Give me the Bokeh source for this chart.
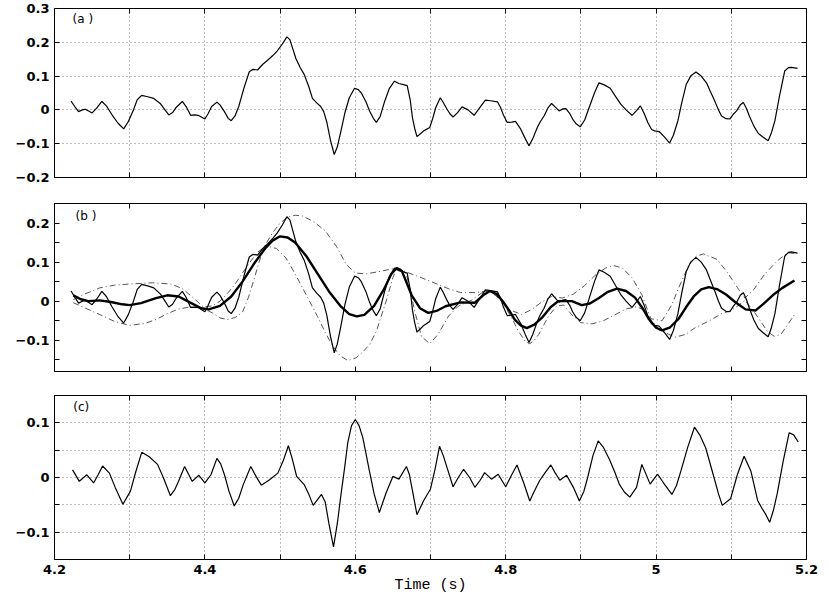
from bokeh.plotting import figure
from bokeh.models import FixedTicker, LinearAxis, Range1d, Label
from bokeh.layouts import column
from bokeh.embed import file_html
from bokeh.resources import INLINE

# ---------------- data ----------------
# (a) measured signal (also thin line in (b))
t_a = [4.222, 4.227, 4.232, 4.237, 4.241, 4.246, 4.250, 4.256, 4.263, 4.269, 4.276, 4.284, 4.292, 4.298,
       4.305, 4.310, 4.316, 4.324, 4.332, 4.341, 4.347, 4.352, 4.357, 4.362, 4.370, 4.375, 4.381, 4.386,
       4.391, 4.400, 4.404, 4.409, 4.416, 4.420, 4.426, 4.431, 4.435, 4.440, 4.445, 4.452, 4.459, 4.464,
       4.470, 4.477, 4.483, 4.490, 4.496, 4.503, 4.509, 4.513, 4.517, 4.521, 4.527, 4.532, 4.538, 4.543,
       4.549, 4.554, 4.558, 4.562, 4.567, 4.572, 4.576, 4.581, 4.586, 4.592, 4.599, 4.604, 4.608, 4.614,
       4.619, 4.624, 4.628, 4.633, 4.639, 4.645, 4.652, 4.658, 4.664, 4.669, 4.673, 4.676, 4.679, 4.682,
       4.687, 4.691, 4.699, 4.703, 4.707, 4.713, 4.717, 4.722, 4.726, 4.730, 4.736, 4.742, 4.750, 4.758,
       4.765, 4.773, 4.780, 4.789, 4.793, 4.797, 4.802, 4.808, 4.813, 4.820, 4.826, 4.831, 4.836, 4.842,
       4.846, 4.851, 4.856, 4.861, 4.866, 4.871, 4.876, 4.880, 4.885, 4.889, 4.894, 4.899, 4.905, 4.911,
       4.918, 4.924, 4.931, 4.939, 4.946, 4.953, 4.960, 4.968, 4.974, 4.979, 4.984, 4.989, 4.994, 4.998,
       5.004, 5.011, 5.018, 5.023, 5.029, 5.034, 5.040, 5.046, 5.053, 5.060, 5.067, 5.072, 5.078, 5.083,
       5.087, 5.093, 5.098, 5.103, 5.107, 5.112, 5.116, 5.120, 5.124, 5.130, 5.136, 5.142, 5.149, 5.153,
       5.158, 5.164, 5.171, 5.176, 5.180, 5.188]
v_a = [0.026, 0.010, -0.005, 0.000, 0.002, -0.004, -0.009, 0.005, 0.025, 0.012, -0.013, -0.038, -0.056, -0.035,
       0.000, 0.030, 0.043, 0.039, 0.034, 0.018, 0.000, -0.015, -0.008, 0.008, 0.025, 0.010, -0.016, -0.015,
       -0.016, -0.027, -0.012, 0.010, 0.023, 0.015, -0.005, -0.025, -0.032, -0.018, 0.010, 0.065, 0.113, 0.120,
       0.118, 0.135, 0.146, 0.160, 0.174, 0.195, 0.216, 0.208, 0.180, 0.152, 0.124, 0.105, 0.070, 0.034,
       0.020, 0.010, -0.005, -0.035, -0.090, -0.132, -0.110, -0.062, -0.010, 0.036, 0.064, 0.060, 0.050, 0.025,
       -0.003, -0.025, -0.037, -0.020, 0.025, 0.062, 0.085, 0.078, 0.075, 0.072, 0.030, -0.023, -0.055, -0.079,
       -0.070, -0.062, -0.052, -0.025, 0.007, 0.036, 0.022, 0.002, -0.012, -0.021, -0.008, 0.009, 0.000, -0.016,
       0.005, 0.029, 0.027, 0.024, 0.008, -0.015, -0.037, -0.036, -0.034, -0.057, -0.085, -0.106, -0.085, -0.052,
       -0.035, -0.018, 0.005, 0.019, 0.008, -0.003, 0.003, 0.004, -0.010, -0.027, -0.042, -0.050, -0.030, 0.007,
       0.050, 0.080, 0.074, 0.064, 0.040, 0.017, 0.000, -0.016, -0.002, 0.012, -0.010, -0.037, -0.058, -0.062,
       -0.064, -0.080, -0.098, -0.075, -0.032, 0.020, 0.075, 0.100, 0.112, 0.100, 0.080, 0.055, 0.026, 0.000,
       -0.018, -0.026, -0.027, -0.012, -0.003, 0.015, 0.022, 0.005, -0.018, -0.048, -0.070, -0.080, -0.091, -0.070,
       -0.032, 0.040, 0.115, 0.125, 0.126, 0.123]

# (b) thick smooth estimate
t_s = [4.225, 4.235, 4.245, 4.260, 4.275, 4.290, 4.300, 4.315, 4.335, 4.350, 4.365, 4.380, 4.395, 4.405,
       4.420, 4.435, 4.450, 4.465, 4.480, 4.490, 4.500, 4.510, 4.520, 4.535, 4.550, 4.565, 4.580, 4.592,
       4.602, 4.612, 4.625, 4.638, 4.648, 4.655, 4.662, 4.675, 4.686, 4.697, 4.708, 4.720, 4.740, 4.759,
       4.770, 4.779, 4.788, 4.796, 4.805, 4.812, 4.820, 4.828, 4.838, 4.848, 4.860, 4.870, 4.888, 4.901,
       4.912, 4.924, 4.936, 4.948, 4.960, 4.972, 4.982, 4.990, 5.000, 5.008, 5.018, 5.030, 5.040, 5.050,
       5.060, 5.070, 5.082, 5.093, 5.105, 5.119, 5.132, 5.142, 5.155, 5.168, 5.184]
v_s = [0.015, 0.005, 0.000, 0.002, -0.002, -0.008, -0.010, -0.005, 0.008, 0.015, 0.012, -0.003, -0.018, -0.021,
       -0.012, 0.012, 0.050, 0.095, 0.135, 0.155, 0.166, 0.163, 0.150, 0.115, 0.070, 0.025, -0.012, -0.033,
       -0.039, -0.035, -0.012, 0.030, 0.070, 0.085, 0.077, 0.015, -0.018, -0.030, -0.025, -0.013, -0.003, -0.004,
       0.015, 0.026, 0.018, 0.000, -0.025, -0.047, -0.062, -0.069, -0.060, -0.043, -0.015, 0.000, 0.000, -0.010,
       -0.006, 0.008, 0.024, 0.032, 0.026, 0.009, -0.018, -0.045, -0.068, -0.075, -0.068, -0.045, -0.015, 0.012,
       0.030, 0.036, 0.030, 0.017, -0.002, -0.021, -0.024, -0.008, 0.015, 0.034, 0.053]

# (b) upper dash-dot bound
t_u = [4.225, 4.240, 4.260, 4.280, 4.300, 4.330, 4.355, 4.370, 4.385, 4.398, 4.410, 4.420, 4.430, 4.440,
       4.450, 4.460, 4.470, 4.478, 4.490, 4.500, 4.510, 4.520, 4.530, 4.545, 4.560, 4.575, 4.588, 4.600,
       4.615, 4.635, 4.655, 4.670, 4.688, 4.710, 4.725, 4.740, 4.760, 4.778, 4.790, 4.804, 4.821, 4.835,
       4.848, 4.861, 4.875, 4.890, 4.905, 4.920, 4.933, 4.944, 4.955, 4.968, 4.981, 4.993, 5.008, 5.021,
       5.030, 5.043, 5.053, 5.063, 5.081, 5.095, 5.108, 5.118, 5.130, 5.144, 5.161, 5.175, 5.184]
v_u = [0.004, 0.018, 0.034, 0.041, 0.044, 0.047, 0.044, 0.032, 0.008, -0.015, -0.012, 0.000, 0.020, 0.043,
       0.072, 0.100, 0.125, 0.137, 0.175, 0.200, 0.215, 0.220, 0.218, 0.203, 0.180, 0.140, 0.094, 0.072,
       0.070, 0.077, 0.085, 0.073, 0.060, 0.043, 0.031, 0.022, 0.022, 0.027, 0.009, -0.021, -0.034, -0.021,
       -0.002, 0.012, 0.008, 0.018, 0.040, 0.068, 0.085, 0.091, 0.085, 0.060, 0.017, -0.045, -0.050, -0.009,
       0.034, 0.090, 0.115, 0.121, 0.107, 0.073, 0.035, 0.008, 0.030, 0.068, 0.103, 0.124, 0.122]

# (b) lower dash-dot bound
t_l = [4.225, 4.240, 4.260, 4.280, 4.300, 4.320, 4.335, 4.350, 4.365, 4.380, 4.398, 4.410, 4.420, 4.430,
       4.440, 4.450, 4.458, 4.466, 4.472, 4.478, 4.485, 4.495, 4.508, 4.520, 4.535, 4.550, 4.560, 4.570,
       4.580, 4.590, 4.601, 4.610, 4.619, 4.628, 4.641, 4.650, 4.655, 4.660, 4.668, 4.674, 4.679, 4.688,
       4.699, 4.710, 4.724, 4.737, 4.755, 4.768, 4.778, 4.786, 4.795, 4.808, 4.817, 4.826, 4.832, 4.838,
       4.844, 4.857, 4.868, 4.877, 4.888, 4.900, 4.915, 4.930, 4.945, 4.960, 4.975, 4.985, 4.993, 5.004,
       5.017, 5.026, 5.039, 5.052, 5.070, 5.088, 5.100, 5.110, 5.118, 5.130, 5.148, 5.157, 5.166, 5.175, 5.184]
v_l = [-0.004, -0.017, -0.034, -0.052, -0.062, -0.057, -0.047, -0.032, -0.020, -0.015, -0.018, -0.030, -0.043, -0.047,
       -0.042, -0.028, 0.010, 0.060, 0.100, 0.135, 0.140, 0.135, 0.110, 0.070, 0.015, -0.040, -0.080, -0.115,
       -0.140, -0.152, -0.145, -0.130, -0.111, -0.077, 0.000, 0.060, 0.085, 0.083, 0.068, 0.020, -0.026, -0.090,
       -0.109, -0.085, -0.038, -0.013, 0.003, 0.021, 0.027, 0.017, 0.000, -0.043, -0.077, -0.103, -0.109, -0.100,
       -0.085, -0.038, -0.012, -0.010, -0.035, -0.055, -0.058, -0.050, -0.035, -0.020, -0.014, -0.025, -0.047, -0.073,
       -0.085, -0.092, -0.085, -0.068, -0.051, -0.031, -0.024, -0.010, 0.002, -0.026, -0.077, -0.090, -0.085, -0.060, -0.034]

# (c) residual
t_c = [4.224, 4.233, 4.243, 4.252, 4.258, 4.264, 4.273, 4.281, 4.291, 4.301, 4.308, 4.316, 4.326, 4.337,
       4.345, 4.354, 4.360, 4.365, 4.373, 4.383, 4.392, 4.400, 4.408, 4.416, 4.421, 4.426, 4.432, 4.439,
       4.445, 4.451, 4.461, 4.468, 4.475, 4.486, 4.497, 4.504, 4.511, 4.516, 4.522, 4.532, 4.538, 4.544,
       4.550, 4.555, 4.560, 4.565, 4.571, 4.576, 4.581, 4.586, 4.590, 4.595, 4.600, 4.605, 4.610, 4.618,
       4.625, 4.632, 4.641, 4.650, 4.658, 4.668, 4.672, 4.676, 4.682, 4.691, 4.700, 4.706, 4.712, 4.717,
       4.722, 4.730, 4.737, 4.744, 4.752, 4.759, 4.766, 4.772, 4.781, 4.790, 4.800, 4.808, 4.815, 4.824,
       4.832, 4.838, 4.845, 4.852, 4.860, 4.866, 4.872, 4.881, 4.890, 4.898, 4.904, 4.909, 4.916, 4.923,
       4.930, 4.938, 4.945, 4.951, 4.958, 4.965, 4.974, 4.981, 4.986, 4.992, 5.002, 5.011, 5.021, 5.027,
       5.033, 5.042, 5.051, 5.058, 5.066, 5.077, 5.083, 5.088, 5.099, 5.108, 5.117, 5.126, 5.135, 5.141,
       5.146, 5.151, 5.156, 5.161, 5.169, 5.177, 5.183, 5.189]
v_c = [0.014, -0.007, 0.005, -0.010, 0.005, 0.021, 0.008, -0.019, -0.049, -0.025, 0.010, 0.046, 0.038, 0.024,
       -0.001, -0.033, -0.022, -0.007, 0.020, -0.007, 0.004, -0.010, 0.005, 0.035, 0.025, 0.005, -0.025, -0.052,
       -0.038, -0.013, 0.020, 0.002, -0.014, -0.004, 0.008, 0.030, 0.058, 0.035, 0.002, -0.013, -0.030, -0.051,
       -0.040, -0.031, -0.045, -0.085, -0.127, -0.085, -0.031, 0.020, 0.064, 0.095, 0.106, 0.095, 0.073, 0.017,
       -0.030, -0.064, -0.028, 0.002, -0.003, 0.020, 0.005, -0.024, -0.068, -0.042, -0.021, 0.015, 0.057, 0.040,
       0.018, -0.017, 0.000, 0.015, 0.000, -0.018, -0.005, 0.009, -0.003, 0.006, -0.017, 0.005, 0.023, -0.010,
       -0.043, -0.025, -0.006, 0.008, 0.023, 0.008, -0.005, 0.004, -0.018, -0.043, -0.025, 0.000, 0.040, 0.067,
       0.055, 0.033, 0.010, -0.012, -0.027, -0.036, -0.018, 0.024, 0.008, -0.012, 0.006, -0.012, -0.031, -0.015,
       0.012, 0.055, 0.092, 0.078, 0.054, 0.000, -0.030, -0.051, -0.039, 0.005, 0.039, 0.012, -0.042, -0.057,
       -0.068, -0.082, -0.060, -0.030, 0.030, 0.082, 0.078, 0.065]

# ticks and labels
x_major = [4.2, 4.4, 4.6, 4.8, 5.0, 5.2]
x_minor = [4.3, 4.5, 4.7, 4.9, 5.1]
x_labels = ["4.2", "4.4", "4.6", "4.8", "5", "5.2"]

ya_major = [-0.2, -0.1, 0.0, 0.1, 0.2, 0.3]
ya_labels = ["\u22120.2", "\u22120.1", "0", "0.1", "0.2", "0.3"]
yb_major = [-0.1, 0.0, 0.1, 0.2]
yb_minor = [-0.15, -0.05, 0.05, 0.15]
yb_labels = ["\u22120.1", "0", "0.1", "0.2"]
yc_major = [-0.1, 0.0, 0.1]
yc_minor = [-0.05, 0.05]
yc_labels = ["\u22120.1", "0", "0.1"]

TICK_FONT = "DejaVu Sans"
GRID_COLOR = "#777777"
FIG_W = 828


def style_axis(ax, ticker, overrides, show_labels, line=True):
    ax.ticker = ticker
    ax.major_tick_in = 5
    ax.major_tick_out = 0
    ax.minor_tick_in = 5
    ax.minor_tick_out = 0
    ax.major_tick_line_color = "black"
    ax.minor_tick_line_color = "black"
    ax.axis_line_color = "black" if line else None
    ax.major_label_overrides = overrides
    ax.major_label_text_font = TICK_FONT
    ax.major_label_text_font_style = "bold"
    ax.major_label_text_color = "black"
    ax.major_label_text_font_size = "13px" if show_labels else "0px"
    ax.major_label_standoff = 5 if show_labels else 0


def make_panel(height, yr, ymaj, ymin, ylabs, top, bottom, grid, show_x):
    p = figure(width=FIG_W, height=height, x_range=Range1d(4.2, 5.2), y_range=Range1d(*yr),
               output_backend="svg", toolbar_location=None,
               min_border_left=54, min_border_right=FIG_W - 806,
               min_border_top=top, min_border_bottom=bottom)
    p.outline_line_color = "black"
    p.outline_line_alpha = 1.0
    xt = FixedTicker(ticks=x_major, minor_ticks=x_minor)
    yt = FixedTicker(ticks=ymaj, minor_ticks=ymin)
    xo = dict(zip(x_major, x_labels)) if show_x else {v: "" for v in x_major}
    yo = dict(zip(ymaj, ylabs))
    bottom_axis = p.below[0]
    style_axis(bottom_axis, xt, xo, show_x)
    style_axis(p.left[0], yt, yo, True)
    ra = LinearAxis()
    style_axis(ra, FixedTicker(ticks=ymaj, minor_ticks=ymin), {v: "" for v in ymaj}, False, line=False)
    p.add_layout(ra, "right")
    ta = LinearAxis()
    style_axis(ta, FixedTicker(ticks=x_major, minor_ticks=x_minor), {v: "" for v in x_major}, False, line=False)
    p.add_layout(ta, "above")
    if grid:
        for g in (p.xgrid[0], p.ygrid[0]):
            g.grid_line_color = GRID_COLOR
            g.grid_line_dash = "1 3"
            g.grid_line_width = 1
            g.minor_grid_line_color = GRID_COLOR
            g.minor_grid_line_dash = "1 3"
            g.minor_grid_line_width = 1
    else:
        p.xgrid.grid_line_color = None
        p.ygrid.grid_line_color = None
    p.background_fill_color = "white"
    p.border_fill_color = "white"
    return p, bottom_axis


pa, _ = make_panel(190, (-0.2, 0.3), ya_major, [], ya_labels, 8, 13, True, False)
pa.line(t_a, v_a, line_color="black", line_width=1.2)
pa.add_layout(Label(x=4.224, y=0.268, text="(a )", text_font=TICK_FONT, text_font_size="12px",
                    text_baseline="middle", text_color="black"))

pb, _ = make_panel(194, (-0.18, 0.25), yb_major, yb_minor, yb_labels, 13, 13, False, False)
pb.line(t_u, v_u, line_color="#555555", line_width=1, line_dash="6 3 1 3")
pb.line(t_l, v_l, line_color="#555555", line_width=1, line_dash="6 3 1 3")
pb.line(t_a, v_a, line_color="black", line_width=1.2)
pb.line(t_s, v_s, line_color="black", line_width=2.4)
pb.add_layout(Label(x=4.228, y=0.218, text="(b )", text_font=TICK_FONT, text_font_size="12px",
                    text_baseline="middle", text_color="black"))

pc, pc_bottom = make_panel(212, (-0.15, 0.15), yc_major, yc_minor, yc_labels, 11, 33, True, True)
pc.line(t_c, v_c, line_color="black", line_width=1.2)
pc.add_layout(Label(x=4.225, y=0.129, text="(c)", text_font=TICK_FONT, text_font_size="12px",
                    text_baseline="middle", text_color="black"))
pc_bottom.axis_label = "Time (s)"
pc_bottom.axis_label_text_font = "Liberation Mono"
pc_bottom.axis_label_text_font_style = "normal"
pc_bottom.axis_label_text_font_size = "15px"
pc_bottom.axis_label_text_color = "black"
pc_bottom.axis_label_standoff = 0

layout = column(pa, pb, pc, spacing=0)
open("out.html", "w").write(file_html(layout, INLINE))
